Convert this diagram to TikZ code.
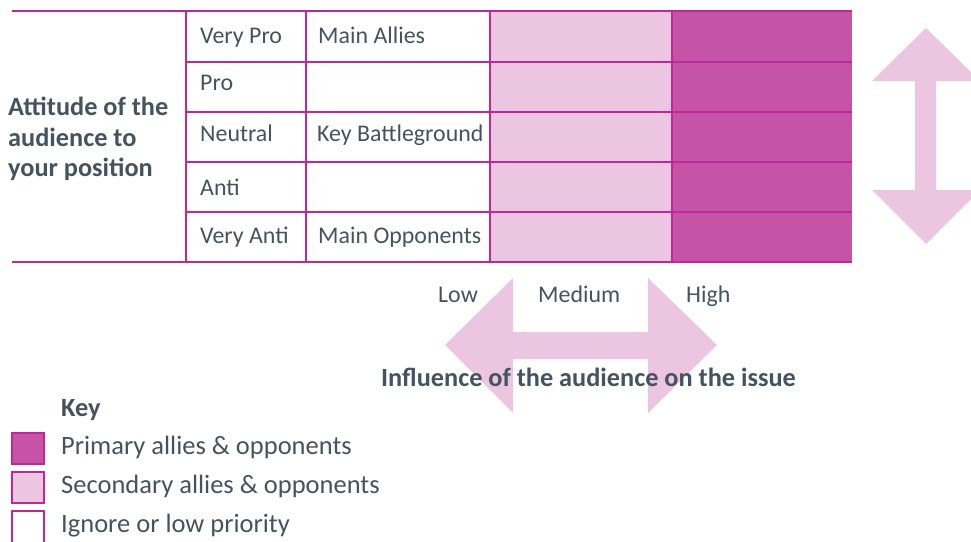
\documentclass[tikz,border=0pt]{standalone}
\usepackage{fontspec}
\setmainfont{Carlito}
\definecolor{txt}{HTML}{44535F}
\definecolor{lnc}{HTML}{C0289A}
\definecolor{dark}{HTML}{C654A6}
\definecolor{light}{HTML}{ECC5E1}
\tikzset{
  cell/.style={anchor=base west, text=txt, inner sep=0pt, font=\fontsize{23.9}{28}\selectfont},
  keytxt/.style={anchor=base west, text=txt, inner sep=0pt, font=\fontsize{26.5}{30}\selectfont},
  lbl/.style={anchor=base west, text=txt, inner sep=0pt, font=\fontsize{26.3}{30}\selectfont\bfseries},
  tline/.style={draw=lnc, line width=1.4pt},
  keybox/.style={draw=lnc, line width=1.2pt},
  bigarrow/.style={fill=light, draw=none}
}
\begin{document}
\begin{tikzpicture}[x=1pt,y=-1pt]
\useasboundingbox (0,0) rectangle (971,541);
\clip (0,0) rectangle (971,541);
% fills
\fill[light] (490,11) rectangle (672,262);
\fill[dark] (672,11) rectangle (852,262);
% lines
\draw[tline] (12,11) -- (852,11);
\draw[tline] (12,262) -- (852,262);
\foreach \y in {62,112,162,212} \draw[tline] (186,\y) -- (852,\y);
\foreach \x in {186,306,490,672} \draw[tline] (\x,12) -- (\x,262);
% vertical arrow
\fill[bigarrow] (926,28) -- (980,81) -- (936,81) -- (936,190) -- (980,190) -- (926,244) -- (872,190) -- (915,190) -- (915,81) -- (872,81) -- cycle;
% horizontal arrow
\fill[bigarrow] (445,345) -- (513,278) -- (513,332) -- (648,332) -- (648,278) -- (717,345) -- (648,413) -- (648,359) -- (513,359) -- (513,413) -- cycle;
% cell texts
\node[cell] (vp) at (200,43) {Very Pro};
\node[cell] (p) at (200,90) {Pro};
\node[cell] (ne) at (200,141) {Neutral};
\node[cell] (an) at (200,195) {Anti};
\node[cell] (va) at (200,243) {Very Anti};
\node[cell] (ma) at (318,43) {Main Allies};
\node[cell] (kb) at (317,141) {Key Battleground};
\node[cell] (mo) at (318,243) {Main Opponents};
% left label
\node[lbl] (a1) at (8,115) {Attitude of the};
\node[lbl] (a2) at (8,146) {audience to};
\node[lbl] (a3) at (8,176) {your position};
% axis labels
\node[cell] (low) at (438,302) {Low};
\node[cell] (med) at (538,302) {Medium};
\node[cell] (high) at (686,302) {High};
\node[lbl] (infl) at (381,386) {Influence of the audience on the issue};
% key
\node[lbl] (key) at (61,416) {Key};
\draw[keybox, fill=dark] (12,433) rectangle (44,464);
\draw[keybox, fill=light] (12,472) rectangle (44,503);
\draw[keybox, fill=white] (12,511) rectangle (44,545);
\node[keytxt] (k1) at (61,454) {Primary allies \& opponents};
\node[keytxt] (k2) at (61,493) {Secondary allies \& opponents};
\node[keytxt] (k3) at (61,532) {Ignore or low priority};
\end{tikzpicture}
\end{document}
